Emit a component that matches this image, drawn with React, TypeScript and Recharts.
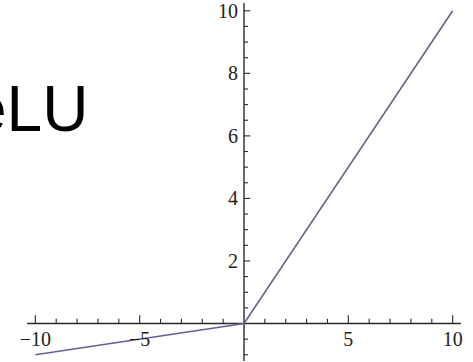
// @ts-nocheck
import { LineChart, Line, XAxis, YAxis, ReferenceLine, ReferenceDot } from 'recharts';

// leaky relu, slope 0.1 on the negative side
const curveX = [-10, 0, 10];
const curveY = [-1, 0, 10];

const xMajorTicks = [-10, -5, 5, 10];
const xMinorTicks = [-9, -8, -7, -6, -4, -3, -2, -1, 1, 2, 3, 4, 6, 7, 8, 9];
const xTickLabels = ['−10', '−5', '5', '10'];

const yMajorTicks = [2, 4, 6, 8, 10];
const yMinorTicks = [-1, -0.5, 0.5, 1, 1.5, 2.5, 3, 3.5, 4.5, 5, 5.5, 6.5, 7, 7.5, 8.5, 9, 9.5];
const yTickLabels = ['2', '4', '6', '8', '10'];

const data = curveX.map((x, i) => ({ x, y: curveY[i] }));

const AXIS = '#2a2a2a';
const LINE = '#64648f';
const labelFont = { fontFamily: '"Liberation Serif", "DejaVu Serif", serif', fontSize: 20, fill: '#222' };

export default function App() {
  return (
    <div style={{ position: 'absolute', left: 0, top: 0, width: 473, height: 362, background: '#fff' }}>
      <LineChart width={473} height={362} data={data} margin={{ top: 3, right: 12, bottom: 1, left: 27 }}>
        <XAxis type="number" dataKey="x" domain={[-10.4, 10.4]} hide allowDataOverflow />
        <YAxis type="number" domain={[-1.2, 10.25]} hide allowDataOverflow />

        <ReferenceLine y={0} stroke={AXIS} strokeWidth={1.4} />
        <ReferenceLine x={0} stroke={AXIS} strokeWidth={1.4} />

        {xMajorTicks.map((t) => (
          <ReferenceLine key={'xM' + t} segment={[{ x: t, y: 0 }, { x: t, y: 0.26 }]} stroke={AXIS} strokeWidth={1.1} />
        ))}
        {xMinorTicks.map((t) => (
          <ReferenceLine key={'xm' + t} segment={[{ x: t, y: 0 }, { x: t, y: 0.15 }]} stroke={AXIS} strokeWidth={1.1} />
        ))}
        {yMajorTicks.map((t) => (
          <ReferenceLine key={'yM' + t} segment={[{ x: 0, y: t }, { x: 0.3, y: t }]} stroke={AXIS} strokeWidth={1.1} />
        ))}
        {yMinorTicks.map((t) => (
          <ReferenceLine key={'ym' + t} segment={[{ x: 0, y: t }, { x: 0.19, y: t }]} stroke={AXIS} strokeWidth={1.1} />
        ))}

        {xMajorTicks.map((t, i) => (
          <ReferenceDot
            key={'xl' + t}
            x={t}
            y={0}
            r={1}
            shape={(p) => (
              <text x={p.cx} y={p.cy + 23} textAnchor="middle" {...labelFont}>
                {xTickLabels[i]}
              </text>
            )}
          />
        ))}
        {yMajorTicks.map((t, i) => (
          <ReferenceDot
            key={'yl' + t}
            x={0}
            y={t}
            r={1}
            shape={(p) => (
              <text x={p.cx - 6} y={p.cy + 7} textAnchor="end" {...labelFont}>
                {yTickLabels[i]}
              </text>
            )}
          />
        ))}

        <Line type="linear" dataKey="y" stroke={LINE} strokeWidth={1.6} dot={false} isAnimationActive={false} />
      </LineChart>
      <svg width={473} height={362} style={{ position: 'absolute', left: 0, top: 0, pointerEvents: 'none' }}>
        <text x={-29} y={131} fontFamily='"Liberation Sans", Arial, sans-serif' fontSize={64} fill="#000">
          eLU
        </text>
      </svg>
    </div>
  );
}
